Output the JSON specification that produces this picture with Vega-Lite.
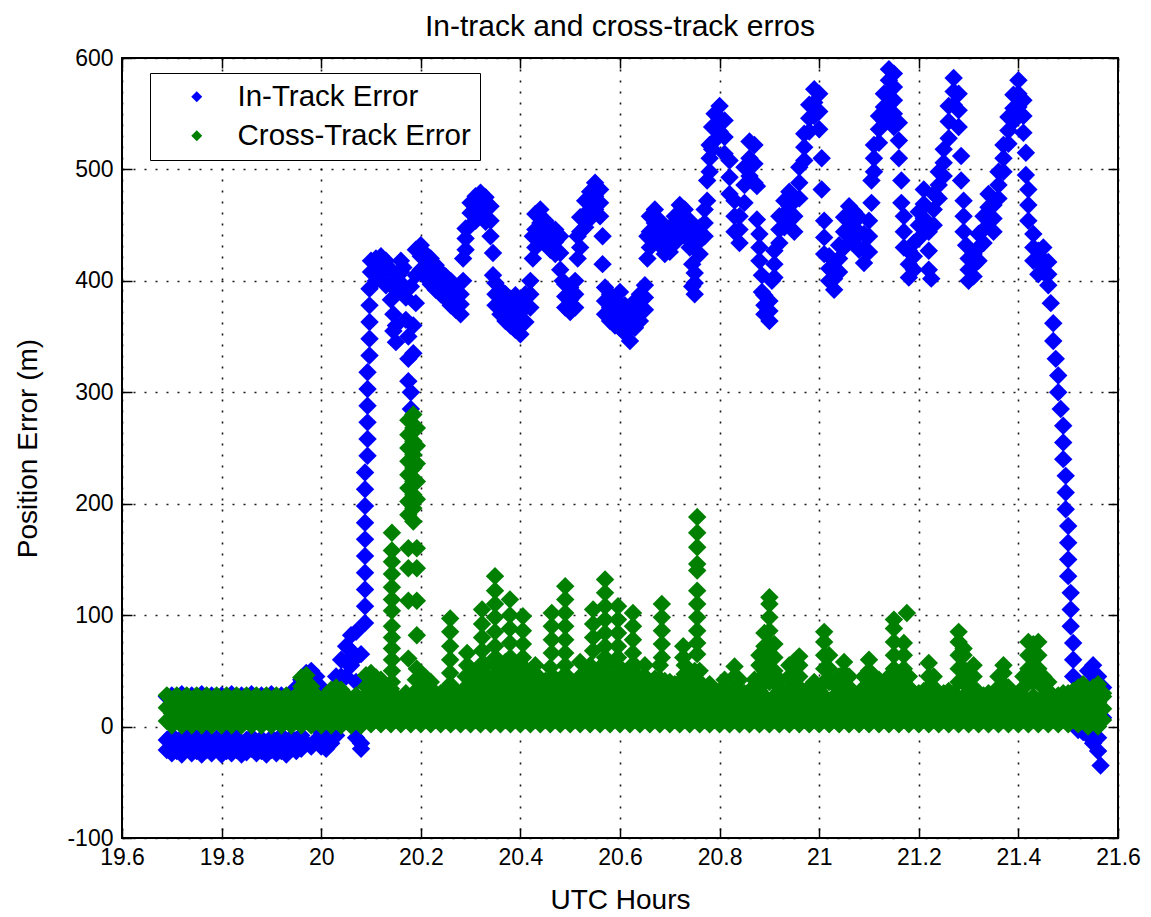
{
"$schema":"https://vega.github.io/schema/vega-lite/v6.json",
"width":996,"height":780,
"autosize":{"type":"none"},
"padding":{"left":122,"top":58,"right":33,"bottom":79},
"background":"white",
"title":{"text":"In-track and cross-track erros","font":"Liberation Sans","fontSize":30,"fontWeight":"normal","color":"black","offset":5,"anchor":"middle"},
"config":{"view":{"stroke":"black","strokeWidth":2}},
"datasets":{
"inTrack":[
{"t":19.69,"v":27},{"t":19.69,"v":-12},{"t":19.69,"v":-21},
{"t":19.70,"v":28},{"t":19.70,"v":-8},{"t":19.70,"v":-24},
{"t":19.71,"v":26},{"t":19.71,"v":-14},{"t":19.71,"v":-22},
{"t":19.72,"v":29},{"t":19.72,"v":-10},{"t":19.72,"v":-25},
{"t":19.73,"v":27},{"t":19.73,"v":-15},{"t":19.73,"v":-20},
{"t":19.74,"v":28},{"t":19.74,"v":-6},{"t":19.74,"v":-24},
{"t":19.75,"v":26},{"t":19.75,"v":-12},{"t":19.75,"v":-22},
{"t":19.76,"v":29},{"t":19.76,"v":-16},{"t":19.76,"v":-25},
{"t":19.77,"v":27},{"t":19.77,"v":-9},{"t":19.77,"v":-21},
{"t":19.78,"v":28},{"t":19.78,"v":-14},{"t":19.78,"v":-24},
{"t":19.79,"v":26},{"t":19.79,"v":-11},{"t":19.79,"v":-20},
{"t":19.80,"v":28},{"t":19.80,"v":-15},{"t":19.80,"v":-25},
{"t":19.81,"v":27},{"t":19.81,"v":-8},{"t":19.81,"v":-22},
{"t":19.82,"v":29},{"t":19.82,"v":-13},{"t":19.82,"v":-24},
{"t":19.83,"v":26},{"t":19.83,"v":-10},{"t":19.83,"v":-21},
{"t":19.84,"v":28},{"t":19.84,"v":-16},{"t":19.84,"v":-25},
{"t":19.85,"v":27},{"t":19.85,"v":-12},{"t":19.85,"v":-23},
{"t":19.86,"v":29},{"t":19.86,"v":-9},{"t":19.86,"v":-20},
{"t":19.87,"v":26},{"t":19.87,"v":-14},{"t":19.87,"v":-24},
{"t":19.88,"v":28},{"t":19.88,"v":-11},{"t":19.88,"v":-22},
{"t":19.89,"v":27},{"t":19.89,"v":-15},{"t":19.89,"v":-25},
{"t":19.90,"v":29},{"t":19.90,"v":-10},{"t":19.90,"v":-21},
{"t":19.91,"v":26},{"t":19.91,"v":-13},{"t":19.91,"v":-24},
{"t":19.92,"v":28},{"t":19.92,"v":-8},{"t":19.92,"v":-22},
{"t":19.93,"v":27},{"t":19.93,"v":-14},{"t":19.93,"v":-25},
{"t":19.94,"v":30},{"t":19.94,"v":-10},{"t":19.94,"v":-20},
{"t":19.95,"v":35},{"t":19.95,"v":-12},{"t":19.95,"v":-22},
{"t":19.96,"v":42},{"t":19.96,"v":-8},{"t":19.96,"v":-20},
{"t":19.97,"v":48},{"t":19.97,"v":20},{"t":19.97,"v":-15},
{"t":19.98,"v":50},{"t":19.98,"v":30},{"t":19.98,"v":-18},
{"t":19.99,"v":45},{"t":19.99,"v":10},{"t":19.99,"v":-12},
{"t":20.00,"v":35},{"t":20.00,"v":-5},{"t":20.00,"v":-18},
{"t":20.01,"v":15},{"t":20.01,"v":-10},{"t":20.01,"v":-20},
{"t":20.02,"v":25},{"t":20.02,"v":0},{"t":20.02,"v":-15},
{"t":20.03,"v":45},{"t":20.03,"v":15},{"t":20.03,"v":-8},
{"t":20.04,"v":60},{"t":20.04,"v":45},{"t":20.04,"v":30},
{"t":20.05,"v":72},{"t":20.05,"v":58},{"t":20.05,"v":45},{"t":20.05,"v":10},
{"t":20.06,"v":82},{"t":20.06,"v":68},{"t":20.06,"v":55},{"t":20.06,"v":20},
{"t":20.07,"v":85},{"t":20.07,"v":62},{"t":20.07,"v":40},{"t":20.07,"v":-10},
{"t":20.08,"v":65},{"t":20.08,"v":20},{"t":20.08,"v":-15},{"t":20.08,"v":-20},
{"t":20.088,"v":93},{"t":20.088,"v":108},{"t":20.088,"v":123},{"t":20.088,"v":138},{"t":20.088,"v":153},{"t":20.088,"v":168},{"t":20.088,"v":183},{"t":20.088,"v":198},{"t":20.088,"v":213},{"t":20.088,"v":228},
{"t":20.093,"v":243},{"t":20.093,"v":258},{"t":20.093,"v":273},{"t":20.093,"v":288},{"t":20.093,"v":303},{"t":20.093,"v":318},
{"t":20.097,"v":333},{"t":20.097,"v":348},{"t":20.097,"v":363},{"t":20.097,"v":378},{"t":20.097,"v":393},
{"t":20.10,"v":408},{"t":20.10,"v":418},
{"t":20.11,"v":420},{"t":20.11,"v":410},{"t":20.11,"v":400},
{"t":20.12,"v":422},{"t":20.12,"v":412},{"t":20.12,"v":402},
{"t":20.13,"v":418},{"t":20.13,"v":408},{"t":20.13,"v":396},
{"t":20.14,"v":410},{"t":20.14,"v":396},{"t":20.14,"v":383},
{"t":20.145,"v":370},{"t":20.145,"v":355},
{"t":20.15,"v":360},{"t":20.15,"v":345},
{"t":20.155,"v":390},{"t":20.155,"v":405},
{"t":20.16,"v":418},{"t":20.16,"v":408},{"t":20.16,"v":398},
{"t":20.165,"v":412},{"t":20.165,"v":390},
{"t":20.17,"v":385},{"t":20.17,"v":365},
{"t":20.175,"v":350},{"t":20.175,"v":330},{"t":20.175,"v":310},
{"t":20.18,"v":395},{"t":20.18,"v":300},{"t":20.18,"v":285},
{"t":20.185,"v":360},{"t":20.185,"v":335},
{"t":20.19,"v":428},{"t":20.19,"v":405},{"t":20.19,"v":380},
{"t":20.20,"v":432},{"t":20.20,"v":422},{"t":20.20,"v":410},
{"t":20.21,"v":424},{"t":20.21,"v":414},{"t":20.21,"v":403},
{"t":20.22,"v":420},{"t":20.22,"v":408},{"t":20.22,"v":397},
{"t":20.23,"v":414},{"t":20.23,"v":403},{"t":20.23,"v":392},
{"t":20.24,"v":408},{"t":20.24,"v":398},{"t":20.24,"v":388},
{"t":20.25,"v":404},{"t":20.25,"v":394},{"t":20.25,"v":384},
{"t":20.26,"v":400},{"t":20.26,"v":389},{"t":20.26,"v":378},
{"t":20.27,"v":394},{"t":20.27,"v":384},{"t":20.27,"v":374},
{"t":20.28,"v":388},{"t":20.28,"v":379},{"t":20.28,"v":370},
{"t":20.285,"v":400},{"t":20.285,"v":420},
{"t":20.29,"v":447},{"t":20.29,"v":438},{"t":20.29,"v":428},
{"t":20.30,"v":470},{"t":20.30,"v":461},{"t":20.30,"v":450},
{"t":20.31,"v":476},{"t":20.31,"v":466},{"t":20.31,"v":454},
{"t":20.32,"v":479},{"t":20.32,"v":469},{"t":20.32,"v":458},
{"t":20.33,"v":475},{"t":20.33,"v":464},{"t":20.33,"v":453},
{"t":20.34,"v":467},{"t":20.34,"v":454},{"t":20.34,"v":440},
{"t":20.345,"v":425},{"t":20.345,"v":405},
{"t":20.35,"v":398},{"t":20.35,"v":388},{"t":20.35,"v":378},
{"t":20.36,"v":392},{"t":20.36,"v":381},{"t":20.36,"v":370},
{"t":20.37,"v":388},{"t":20.37,"v":376},{"t":20.37,"v":364},
{"t":20.38,"v":384},{"t":20.38,"v":372},{"t":20.38,"v":360},
{"t":20.39,"v":387},{"t":20.39,"v":372},{"t":20.39,"v":356},
{"t":20.40,"v":380},{"t":20.40,"v":366},{"t":20.40,"v":352},
{"t":20.41,"v":388},{"t":20.41,"v":376},{"t":20.41,"v":363},
{"t":20.42,"v":400},{"t":20.42,"v":388},{"t":20.42,"v":376},
{"t":20.425,"v":420},{"t":20.425,"v":440},
{"t":20.43,"v":460},{"t":20.43,"v":446},{"t":20.43,"v":430},
{"t":20.44,"v":464},{"t":20.44,"v":452},{"t":20.44,"v":440},
{"t":20.45,"v":454},{"t":20.45,"v":444},{"t":20.45,"v":434},
{"t":20.46,"v":448},{"t":20.46,"v":438},{"t":20.46,"v":428},
{"t":20.47,"v":446},{"t":20.47,"v":435},{"t":20.47,"v":424},
{"t":20.48,"v":440},{"t":20.48,"v":425},{"t":20.48,"v":410},
{"t":20.485,"v":400},
{"t":20.49,"v":397},{"t":20.49,"v":386},{"t":20.49,"v":376},
{"t":20.50,"v":394},{"t":20.50,"v":383},{"t":20.50,"v":372},
{"t":20.51,"v":400},{"t":20.51,"v":388},{"t":20.51,"v":376},
{"t":20.515,"v":420},{"t":20.515,"v":440},
{"t":20.52,"v":457},{"t":20.52,"v":444},{"t":20.52,"v":430},
{"t":20.53,"v":472},{"t":20.53,"v":460},{"t":20.53,"v":448},
{"t":20.54,"v":480},{"t":20.54,"v":468},{"t":20.54,"v":456},
{"t":20.55,"v":488},{"t":20.55,"v":476},{"t":20.55,"v":464},
{"t":20.56,"v":482},{"t":20.56,"v":470},{"t":20.56,"v":458},
{"t":20.565,"v":440},{"t":20.565,"v":415},
{"t":20.57,"v":394},{"t":20.57,"v":382},{"t":20.57,"v":370},
{"t":20.58,"v":388},{"t":20.58,"v":376},{"t":20.58,"v":364},
{"t":20.59,"v":384},{"t":20.59,"v":372},{"t":20.59,"v":360},
{"t":20.60,"v":390},{"t":20.60,"v":374},{"t":20.60,"v":358},
{"t":20.61,"v":378},{"t":20.61,"v":366},{"t":20.61,"v":353},
{"t":20.62,"v":374},{"t":20.62,"v":360},{"t":20.62,"v":346},
{"t":20.63,"v":382},{"t":20.63,"v":370},{"t":20.63,"v":358},
{"t":20.64,"v":388},{"t":20.64,"v":376},{"t":20.64,"v":364},
{"t":20.65,"v":396},{"t":20.65,"v":385},{"t":20.65,"v":374},
{"t":20.655,"v":420},{"t":20.655,"v":440},
{"t":20.66,"v":458},{"t":20.66,"v":444},{"t":20.66,"v":430},
{"t":20.67,"v":464},{"t":20.67,"v":452},{"t":20.67,"v":440},
{"t":20.68,"v":454},{"t":20.68,"v":443},{"t":20.68,"v":432},
{"t":20.69,"v":444},{"t":20.69,"v":434},{"t":20.69,"v":424},
{"t":20.70,"v":448},{"t":20.70,"v":437},{"t":20.70,"v":426},
{"t":20.71,"v":458},{"t":20.71,"v":446},{"t":20.71,"v":434},
{"t":20.72,"v":468},{"t":20.72,"v":456},{"t":20.72,"v":444},
{"t":20.73,"v":464},{"t":20.73,"v":452},{"t":20.73,"v":440},
{"t":20.74,"v":454},{"t":20.74,"v":442},{"t":20.74,"v":430},
{"t":20.745,"v":415},{"t":20.745,"v":395},
{"t":20.75,"v":407},{"t":20.75,"v":398},{"t":20.75,"v":388},
{"t":20.76,"v":448},{"t":20.76,"v":436},{"t":20.76,"v":424},
{"t":20.77,"v":464},{"t":20.77,"v":452},{"t":20.77,"v":440},
{"t":20.775,"v":490},{"t":20.775,"v":472},
{"t":20.78,"v":522},{"t":20.78,"v":510},{"t":20.78,"v":498},
{"t":20.785,"v":538},{"t":20.785,"v":518},
{"t":20.79,"v":550},{"t":20.79,"v":538},{"t":20.79,"v":526},
{"t":20.80,"v":557},{"t":20.80,"v":546},{"t":20.80,"v":534},
{"t":20.81,"v":544},{"t":20.81,"v":529},{"t":20.81,"v":514},
{"t":20.82,"v":508},{"t":20.82,"v":493},{"t":20.82,"v":478},
{"t":20.83,"v":472},{"t":20.83,"v":458},{"t":20.83,"v":444},
{"t":20.84,"v":458},{"t":20.84,"v":446},{"t":20.84,"v":434},
{"t":20.85,"v":502},{"t":20.85,"v":486},{"t":20.85,"v":470},
{"t":20.86,"v":525},{"t":20.86,"v":510},{"t":20.86,"v":494},
{"t":20.87,"v":522},{"t":20.87,"v":505},{"t":20.87,"v":488},
{"t":20.875,"v":485},{"t":20.875,"v":455},
{"t":20.88,"v":442},{"t":20.88,"v":430},{"t":20.88,"v":418},
{"t":20.885,"v":405},{"t":20.885,"v":390},
{"t":20.89,"v":387},{"t":20.89,"v":378},{"t":20.89,"v":370},
{"t":20.90,"v":382},{"t":20.90,"v":373},{"t":20.90,"v":364},
{"t":20.905,"v":400},
{"t":20.91,"v":427},{"t":20.91,"v":415},{"t":20.91,"v":403},
{"t":20.92,"v":458},{"t":20.92,"v":446},{"t":20.92,"v":434},
{"t":20.93,"v":472},{"t":20.93,"v":460},{"t":20.93,"v":448},
{"t":20.94,"v":480},{"t":20.94,"v":467},{"t":20.94,"v":454},
{"t":20.95,"v":472},{"t":20.95,"v":458},{"t":20.95,"v":444},
{"t":20.96,"v":502},{"t":20.96,"v":488},{"t":20.96,"v":474},
{"t":20.97,"v":532},{"t":20.97,"v":520},{"t":20.97,"v":508},
{"t":20.98,"v":558},{"t":20.98,"v":546},{"t":20.98,"v":534},
{"t":20.99,"v":572},{"t":20.99,"v":560},{"t":20.99,"v":548},
{"t":21.00,"v":568},{"t":21.00,"v":552},{"t":21.00,"v":536},
{"t":21.005,"v":510},{"t":21.005,"v":482},
{"t":21.01,"v":454},{"t":21.01,"v":439},{"t":21.01,"v":424},
{"t":21.02,"v":422},{"t":21.02,"v":411},{"t":21.02,"v":400},
{"t":21.03,"v":412},{"t":21.03,"v":402},{"t":21.03,"v":392},
{"t":21.04,"v":432},{"t":21.04,"v":420},{"t":21.04,"v":408},
{"t":21.05,"v":457},{"t":21.05,"v":444},{"t":21.05,"v":430},
{"t":21.06,"v":467},{"t":21.06,"v":454},{"t":21.06,"v":440},
{"t":21.07,"v":462},{"t":21.07,"v":448},{"t":21.07,"v":434},
{"t":21.08,"v":457},{"t":21.08,"v":442},{"t":21.08,"v":428},
{"t":21.09,"v":442},{"t":21.09,"v":429},{"t":21.09,"v":416},
{"t":21.10,"v":454},{"t":21.10,"v":440},{"t":21.10,"v":426},
{"t":21.105,"v":490},{"t":21.105,"v":470},
{"t":21.11,"v":522},{"t":21.11,"v":510},{"t":21.11,"v":498},
{"t":21.12,"v":548},{"t":21.12,"v":536},{"t":21.12,"v":524},
{"t":21.13,"v":568},{"t":21.13,"v":556},{"t":21.13,"v":544},
{"t":21.14,"v":590},{"t":21.14,"v":580},{"t":21.14,"v":570},{"t":21.14,"v":558},{"t":21.14,"v":548},
{"t":21.15,"v":586},{"t":21.15,"v":574},{"t":21.15,"v":562},{"t":21.15,"v":550},{"t":21.15,"v":538},
{"t":21.16,"v":542},{"t":21.16,"v":526},{"t":21.16,"v":510},
{"t":21.165,"v":490},{"t":21.165,"v":470},
{"t":21.17,"v":458},{"t":21.17,"v":444},{"t":21.17,"v":430},
{"t":21.18,"v":427},{"t":21.18,"v":415},{"t":21.18,"v":403},
{"t":21.19,"v":434},{"t":21.19,"v":422},{"t":21.19,"v":410},
{"t":21.20,"v":462},{"t":21.20,"v":450},{"t":21.20,"v":438},
{"t":21.21,"v":482},{"t":21.21,"v":469},{"t":21.21,"v":456},
{"t":21.22,"v":444},{"t":21.22,"v":427},{"t":21.22,"v":410},
{"t":21.225,"v":402},
{"t":21.23,"v":478},{"t":21.23,"v":464},{"t":21.23,"v":450},
{"t":21.24,"v":498},{"t":21.24,"v":486},{"t":21.24,"v":474},
{"t":21.25,"v":518},{"t":21.25,"v":506},{"t":21.25,"v":494},
{"t":21.26,"v":557},{"t":21.26,"v":543},{"t":21.26,"v":528},
{"t":21.27,"v":582},{"t":21.27,"v":570},{"t":21.27,"v":558},
{"t":21.28,"v":568},{"t":21.28,"v":553},{"t":21.28,"v":538},
{"t":21.285,"v":512},{"t":21.285,"v":490},
{"t":21.29,"v":472},{"t":21.29,"v":458},{"t":21.29,"v":444},
{"t":21.295,"v":432},
{"t":21.30,"v":420},{"t":21.30,"v":410},{"t":21.30,"v":400},
{"t":21.31,"v":424},{"t":21.31,"v":414},{"t":21.31,"v":404},
{"t":21.32,"v":442},{"t":21.32,"v":430},{"t":21.32,"v":418},
{"t":21.33,"v":458},{"t":21.33,"v":446},{"t":21.33,"v":434},
{"t":21.34,"v":478},{"t":21.34,"v":466},{"t":21.34,"v":454},
{"t":21.35,"v":468},{"t":21.35,"v":456},{"t":21.35,"v":444},
{"t":21.36,"v":498},{"t":21.36,"v":486},{"t":21.36,"v":474},
{"t":21.37,"v":522},{"t":21.37,"v":510},{"t":21.37,"v":498},
{"t":21.38,"v":547},{"t":21.38,"v":535},{"t":21.38,"v":523},
{"t":21.39,"v":567},{"t":21.39,"v":555},{"t":21.39,"v":543},
{"t":21.40,"v":580},{"t":21.40,"v":568},{"t":21.40,"v":556},
{"t":21.41,"v":562},{"t":21.41,"v":548},{"t":21.41,"v":533},
{"t":21.415,"v":515},{"t":21.415,"v":495},
{"t":21.42,"v":482},{"t":21.42,"v":468},{"t":21.42,"v":454},
{"t":21.43,"v":442},{"t":21.43,"v":430},{"t":21.43,"v":418},
{"t":21.44,"v":427},{"t":21.44,"v":417},{"t":21.44,"v":406},
{"t":21.45,"v":430},{"t":21.45,"v":419},{"t":21.45,"v":408},
{"t":21.46,"v":417},{"t":21.46,"v":406},{"t":21.46,"v":396},
{"t":21.465,"v":380},
{"t":21.47,"v":362},{"t":21.47,"v":346},
{"t":21.475,"v":330},
{"t":21.48,"v":315},{"t":21.48,"v":300},
{"t":21.485,"v":285},
{"t":21.49,"v":270},{"t":21.49,"v":255},{"t":21.49,"v":240},
{"t":21.495,"v":225},{"t":21.495,"v":210},{"t":21.495,"v":195},
{"t":21.50,"v":180},{"t":21.50,"v":165},{"t":21.50,"v":150},{"t":21.50,"v":135},
{"t":21.505,"v":120},{"t":21.505,"v":105},{"t":21.505,"v":90},
{"t":21.51,"v":75},{"t":21.51,"v":60},{"t":21.51,"v":45},
{"t":21.515,"v":30},{"t":21.515,"v":15},
{"t":21.52,"v":5},{"t":21.52,"v":-3},
{"t":21.53,"v":10},{"t":21.53,"v":-5},
{"t":21.54,"v":50},{"t":21.54,"v":35},{"t":21.54,"v":20},{"t":21.54,"v":-8},
{"t":21.55,"v":55},{"t":21.55,"v":40},{"t":21.55,"v":0},{"t":21.55,"v":-15},
{"t":21.56,"v":45},{"t":21.56,"v":22},{"t":21.56,"v":-10},{"t":21.56,"v":-22},
{"t":21.565,"v":28},{"t":21.565,"v":-35},
{"t":21.57,"v":35},{"t":21.57,"v":8}
],
"crossTrack":[
{"t":19.69,"v":5},{"t":19.69,"v":17},{"t":19.69,"v":28},
{"t":19.70,"v":1},{"t":19.70,"v":12},{"t":19.70,"v":24},
{"t":19.71,"v":5},{"t":19.71,"v":17},{"t":19.71,"v":28},
{"t":19.72,"v":1},{"t":19.72,"v":12},{"t":19.72,"v":24},
{"t":19.73,"v":5},{"t":19.73,"v":17},{"t":19.73,"v":28},
{"t":19.74,"v":1},{"t":19.74,"v":12},{"t":19.74,"v":24},
{"t":19.75,"v":5},{"t":19.75,"v":17},{"t":19.75,"v":28},
{"t":19.76,"v":1},{"t":19.76,"v":12},{"t":19.76,"v":24},
{"t":19.77,"v":5},{"t":19.77,"v":17},{"t":19.77,"v":28},
{"t":19.78,"v":1},{"t":19.78,"v":12},{"t":19.78,"v":24},
{"t":19.79,"v":5},{"t":19.79,"v":17},{"t":19.79,"v":28},
{"t":19.80,"v":1},{"t":19.80,"v":12},{"t":19.80,"v":24},
{"t":19.81,"v":5},{"t":19.81,"v":17},{"t":19.81,"v":28},
{"t":19.82,"v":1},{"t":19.82,"v":12},{"t":19.82,"v":24},
{"t":19.83,"v":5},{"t":19.83,"v":17},{"t":19.83,"v":28},
{"t":19.84,"v":1},{"t":19.84,"v":12},{"t":19.84,"v":24},
{"t":19.85,"v":5},{"t":19.85,"v":17},{"t":19.85,"v":28},
{"t":19.86,"v":1},{"t":19.86,"v":12},{"t":19.86,"v":24},
{"t":19.87,"v":5},{"t":19.87,"v":17},{"t":19.87,"v":28},
{"t":19.88,"v":1},{"t":19.88,"v":12},{"t":19.88,"v":24},
{"t":19.89,"v":5},{"t":19.89,"v":17},{"t":19.89,"v":28},
{"t":19.90,"v":1},{"t":19.90,"v":12},{"t":19.90,"v":24},
{"t":19.91,"v":5},{"t":19.91,"v":17},{"t":19.91,"v":28},
{"t":19.92,"v":1},{"t":19.92,"v":12},{"t":19.92,"v":24},
{"t":19.93,"v":5},{"t":19.93,"v":17},{"t":19.93,"v":28},
{"t":19.94,"v":1},{"t":19.94,"v":12},{"t":19.94,"v":24},
{"t":19.95,"v":5},{"t":19.95,"v":17},{"t":19.95,"v":28},
{"t":19.96,"v":1},{"t":19.96,"v":12},{"t":19.96,"v":24},{"t":19.96,"v":36},{"t":19.96,"v":44},
{"t":19.97,"v":5},{"t":19.97,"v":17},{"t":19.97,"v":28},{"t":19.97,"v":40},{"t":19.97,"v":46},
{"t":19.98,"v":1},{"t":19.98,"v":12},{"t":19.98,"v":24},{"t":19.98,"v":36},
{"t":19.99,"v":5},{"t":19.99,"v":17},{"t":19.99,"v":28},
{"t":20.00,"v":1},{"t":20.00,"v":12},{"t":20.00,"v":24},
{"t":20.01,"v":5},{"t":20.01,"v":17},{"t":20.01,"v":28},
{"t":20.02,"v":1},{"t":20.02,"v":12},{"t":20.02,"v":24},{"t":20.02,"v":33},
{"t":20.03,"v":5},{"t":20.03,"v":17},{"t":20.03,"v":28},{"t":20.03,"v":35},
{"t":20.04,"v":1},{"t":20.04,"v":12},{"t":20.04,"v":24},{"t":20.04,"v":33},
{"t":20.05,"v":5},{"t":20.05,"v":17},{"t":20.05,"v":28},
{"t":20.06,"v":1},{"t":20.06,"v":12},{"t":20.06,"v":24},
{"t":20.07,"v":5},{"t":20.07,"v":17},{"t":20.07,"v":28},
{"t":20.08,"v":1},{"t":20.08,"v":12},{"t":20.08,"v":24},
{"t":20.09,"v":6},{"t":20.09,"v":16},{"t":20.09,"v":27},{"t":20.09,"v":36},{"t":20.09,"v":46},
{"t":20.10,"v":2},{"t":20.10,"v":12},{"t":20.10,"v":22},{"t":20.10,"v":38},{"t":20.10,"v":48},
{"t":20.11,"v":6},{"t":20.11,"v":16},{"t":20.11,"v":27},{"t":20.11,"v":36},{"t":20.11,"v":44},
{"t":20.12,"v":2},{"t":20.12,"v":12},{"t":20.12,"v":22},{"t":20.12,"v":34},{"t":20.12,"v":42},
{"t":20.13,"v":6},{"t":20.13,"v":16},{"t":20.13,"v":27},{"t":20.13,"v":36},
{"t":20.14,"v":2},{"t":20.14,"v":12},{"t":20.14,"v":22},{"t":20.14,"v":34},
{"t":20.142,"v":174},{"t":20.142,"v":158},{"t":20.142,"v":148},{"t":20.142,"v":137},{"t":20.142,"v":125},{"t":20.142,"v":114},{"t":20.142,"v":104},{"t":20.142,"v":90},{"t":20.142,"v":80},{"t":20.142,"v":70},{"t":20.142,"v":60},{"t":20.142,"v":50},{"t":20.142,"v":40},
{"t":20.15,"v":6},{"t":20.15,"v":16},{"t":20.15,"v":27},
{"t":20.16,"v":2},{"t":20.16,"v":12},{"t":20.16,"v":22},
{"t":20.17,"v":6},{"t":20.17,"v":16},{"t":20.17,"v":27},{"t":20.17,"v":30},
{"t":20.175,"v":275},{"t":20.175,"v":262},{"t":20.175,"v":250},{"t":20.175,"v":238},{"t":20.175,"v":226},{"t":20.175,"v":214},{"t":20.175,"v":202},{"t":20.175,"v":190},{"t":20.175,"v":160},{"t":20.175,"v":142},{"t":20.175,"v":113},{"t":20.175,"v":61},
{"t":20.18,"v":2},{"t":20.18,"v":12},{"t":20.18,"v":22},
{"t":20.185,"v":280},{"t":20.185,"v":268},{"t":20.185,"v":256},{"t":20.185,"v":244},{"t":20.185,"v":232},{"t":20.185,"v":220},{"t":20.185,"v":208},{"t":20.185,"v":196},{"t":20.185,"v":184},
{"t":20.19,"v":6},{"t":20.19,"v":16},{"t":20.19,"v":27},{"t":20.19,"v":32},{"t":20.19,"v":42},
{"t":20.192,"v":268},{"t":20.192,"v":252},{"t":20.192,"v":236},{"t":20.192,"v":220},{"t":20.192,"v":204},{"t":20.192,"v":160},{"t":20.192,"v":142},{"t":20.192,"v":113},{"t":20.192,"v":82},{"t":20.192,"v":52},
{"t":20.20,"v":2},{"t":20.20,"v":12},{"t":20.20,"v":22},{"t":20.20,"v":32},{"t":20.20,"v":42},
{"t":20.21,"v":6},{"t":20.21,"v":16},{"t":20.21,"v":27},{"t":20.21,"v":34},{"t":20.21,"v":44},
{"t":20.22,"v":2},{"t":20.22,"v":12},{"t":20.22,"v":22},{"t":20.22,"v":32},{"t":20.22,"v":40},
{"t":20.23,"v":6},{"t":20.23,"v":16},{"t":20.23,"v":27},{"t":20.23,"v":30},
{"t":20.24,"v":2},{"t":20.24,"v":12},{"t":20.24,"v":22},{"t":20.24,"v":30},
{"t":20.25,"v":6},{"t":20.25,"v":16},{"t":20.25,"v":27},{"t":20.25,"v":32},
{"t":20.26,"v":2},{"t":20.26,"v":12},{"t":20.26,"v":22},{"t":20.26,"v":30},
{"t":20.259,"v":97},{"t":20.259,"v":85},{"t":20.259,"v":72},{"t":20.259,"v":60},{"t":20.259,"v":48},{"t":20.259,"v":38},
{"t":20.27,"v":6},{"t":20.27,"v":16},{"t":20.27,"v":27},{"t":20.27,"v":32},
{"t":20.28,"v":2},{"t":20.28,"v":12},{"t":20.28,"v":22},{"t":20.28,"v":30},
{"t":20.29,"v":6},{"t":20.29,"v":16},{"t":20.29,"v":27},{"t":20.29,"v":35},{"t":20.29,"v":45},
{"t":20.293,"v":66},{"t":20.293,"v":55},
{"t":20.30,"v":2},{"t":20.30,"v":12},{"t":20.30,"v":22},{"t":20.30,"v":35},{"t":20.30,"v":45},{"t":20.30,"v":52},
{"t":20.31,"v":6},{"t":20.31,"v":16},{"t":20.31,"v":27},{"t":20.31,"v":37},{"t":20.31,"v":45},
{"t":20.32,"v":2},{"t":20.32,"v":12},{"t":20.32,"v":22},{"t":20.32,"v":33},{"t":20.32,"v":45},{"t":20.32,"v":55},
{"t":20.323,"v":105},{"t":20.323,"v":92},{"t":20.323,"v":80},{"t":20.323,"v":68},
{"t":20.33,"v":6},{"t":20.33,"v":16},{"t":20.33,"v":27},{"t":20.33,"v":37},{"t":20.33,"v":47},{"t":20.33,"v":55},
{"t":20.34,"v":2},{"t":20.34,"v":12},{"t":20.34,"v":22},{"t":20.34,"v":33},{"t":20.34,"v":43},
{"t":20.35,"v":6},{"t":20.35,"v":16},{"t":20.35,"v":27},{"t":20.35,"v":37},{"t":20.35,"v":47},{"t":20.35,"v":55},{"t":20.35,"v":62},
{"t":20.349,"v":135},{"t":20.349,"v":122},{"t":20.349,"v":110},{"t":20.349,"v":98},{"t":20.349,"v":85},{"t":20.349,"v":72},
{"t":20.36,"v":2},{"t":20.36,"v":12},{"t":20.36,"v":22},{"t":20.36,"v":33},{"t":20.36,"v":43},{"t":20.36,"v":53},
{"t":20.37,"v":6},{"t":20.37,"v":16},{"t":20.37,"v":27},{"t":20.37,"v":37},{"t":20.37,"v":47},{"t":20.37,"v":58},
{"t":20.38,"v":2},{"t":20.38,"v":12},{"t":20.38,"v":22},{"t":20.38,"v":33},{"t":20.38,"v":43},{"t":20.38,"v":53},{"t":20.38,"v":62},
{"t":20.379,"v":114},{"t":20.379,"v":100},{"t":20.379,"v":88},{"t":20.379,"v":75},
{"t":20.39,"v":6},{"t":20.39,"v":16},{"t":20.39,"v":27},{"t":20.39,"v":37},{"t":20.39,"v":47},{"t":20.39,"v":55},
{"t":20.40,"v":2},{"t":20.40,"v":12},{"t":20.40,"v":22},{"t":20.40,"v":33},{"t":20.40,"v":43},{"t":20.40,"v":53},
{"t":20.405,"v":99},{"t":20.405,"v":86},{"t":20.405,"v":74},{"t":20.405,"v":62},
{"t":20.41,"v":6},{"t":20.41,"v":16},{"t":20.41,"v":27},{"t":20.41,"v":37},{"t":20.41,"v":47},{"t":20.41,"v":52},
{"t":20.42,"v":2},{"t":20.42,"v":12},{"t":20.42,"v":22},{"t":20.42,"v":33},{"t":20.42,"v":43},
{"t":20.43,"v":6},{"t":20.43,"v":16},{"t":20.43,"v":27},{"t":20.43,"v":37},{"t":20.43,"v":47},{"t":20.43,"v":55},
{"t":20.44,"v":2},{"t":20.44,"v":12},{"t":20.44,"v":22},{"t":20.44,"v":33},{"t":20.44,"v":43},
{"t":20.45,"v":6},{"t":20.45,"v":16},{"t":20.45,"v":27},{"t":20.45,"v":35},{"t":20.45,"v":41},
{"t":20.46,"v":2},{"t":20.46,"v":12},{"t":20.46,"v":22},{"t":20.46,"v":33},{"t":20.46,"v":43},{"t":20.46,"v":53},
{"t":20.463,"v":102},{"t":20.463,"v":90},{"t":20.463,"v":78},{"t":20.463,"v":66},
{"t":20.47,"v":6},{"t":20.47,"v":16},{"t":20.47,"v":27},{"t":20.47,"v":35},{"t":20.47,"v":43},
{"t":20.48,"v":2},{"t":20.48,"v":12},{"t":20.48,"v":22},{"t":20.48,"v":31},{"t":20.48,"v":40},
{"t":20.49,"v":6},{"t":20.49,"v":16},{"t":20.49,"v":27},{"t":20.49,"v":37},{"t":20.49,"v":47},{"t":20.49,"v":55},
{"t":20.49,"v":126},{"t":20.49,"v":114},{"t":20.49,"v":102},{"t":20.49,"v":90},{"t":20.49,"v":78},{"t":20.49,"v":66},
{"t":20.50,"v":2},{"t":20.50,"v":12},{"t":20.50,"v":22},{"t":20.50,"v":33},{"t":20.50,"v":41},
{"t":20.51,"v":6},{"t":20.51,"v":16},{"t":20.51,"v":27},{"t":20.51,"v":33},
{"t":20.52,"v":2},{"t":20.52,"v":12},{"t":20.52,"v":22},{"t":20.52,"v":33},{"t":20.52,"v":45},{"t":20.52,"v":58},
{"t":20.53,"v":6},{"t":20.53,"v":16},{"t":20.53,"v":27},{"t":20.53,"v":37},{"t":20.53,"v":47},
{"t":20.54,"v":2},{"t":20.54,"v":12},{"t":20.54,"v":22},{"t":20.54,"v":33},{"t":20.54,"v":43},{"t":20.54,"v":55},
{"t":20.546,"v":105},{"t":20.546,"v":92},{"t":20.546,"v":80},{"t":20.546,"v":68},
{"t":20.55,"v":6},{"t":20.55,"v":16},{"t":20.55,"v":27},{"t":20.55,"v":37},{"t":20.55,"v":47},
{"t":20.56,"v":2},{"t":20.56,"v":12},{"t":20.56,"v":22},{"t":20.56,"v":33},{"t":20.56,"v":43},{"t":20.56,"v":53},
{"t":20.57,"v":6},{"t":20.57,"v":16},{"t":20.57,"v":27},{"t":20.57,"v":37},{"t":20.57,"v":47},{"t":20.57,"v":55},
{"t":20.57,"v":132},{"t":20.57,"v":120},{"t":20.57,"v":108},{"t":20.57,"v":96},{"t":20.57,"v":84},{"t":20.57,"v":72},{"t":20.57,"v":62},
{"t":20.58,"v":2},{"t":20.58,"v":12},{"t":20.58,"v":22},{"t":20.58,"v":33},{"t":20.58,"v":43},
{"t":20.59,"v":6},{"t":20.59,"v":16},{"t":20.59,"v":27},{"t":20.59,"v":37},{"t":20.59,"v":47},{"t":20.59,"v":55},
{"t":20.60,"v":2},{"t":20.60,"v":12},{"t":20.60,"v":22},{"t":20.60,"v":33},{"t":20.60,"v":43},{"t":20.60,"v":53},
{"t":20.596,"v":108},{"t":20.596,"v":96},{"t":20.596,"v":84},{"t":20.596,"v":72},{"t":20.596,"v":62},
{"t":20.61,"v":6},{"t":20.61,"v":16},{"t":20.61,"v":27},{"t":20.61,"v":37},{"t":20.61,"v":45},
{"t":20.62,"v":2},{"t":20.62,"v":12},{"t":20.62,"v":22},{"t":20.62,"v":33},{"t":20.62,"v":43},{"t":20.62,"v":53},
{"t":20.63,"v":6},{"t":20.63,"v":16},{"t":20.63,"v":27},{"t":20.63,"v":37},{"t":20.63,"v":47},{"t":20.63,"v":55},
{"t":20.626,"v":102},{"t":20.626,"v":90},{"t":20.626,"v":78},{"t":20.626,"v":66},
{"t":20.64,"v":2},{"t":20.64,"v":12},{"t":20.64,"v":22},{"t":20.64,"v":33},{"t":20.64,"v":43},
{"t":20.65,"v":6},{"t":20.65,"v":16},{"t":20.65,"v":27},{"t":20.65,"v":35},{"t":20.65,"v":45},{"t":20.65,"v":55},
{"t":20.66,"v":2},{"t":20.66,"v":12},{"t":20.66,"v":22},{"t":20.66,"v":31},{"t":20.66,"v":40},
{"t":20.67,"v":6},{"t":20.67,"v":16},{"t":20.67,"v":27},{"t":20.67,"v":35},{"t":20.67,"v":43},
{"t":20.68,"v":2},{"t":20.68,"v":12},{"t":20.68,"v":22},{"t":20.68,"v":33},{"t":20.68,"v":43},{"t":20.68,"v":55},
{"t":20.684,"v":110},{"t":20.684,"v":98},{"t":20.684,"v":86},{"t":20.684,"v":74},{"t":20.684,"v":62},
{"t":20.69,"v":6},{"t":20.69,"v":16},{"t":20.69,"v":27},{"t":20.69,"v":35},{"t":20.69,"v":41},
{"t":20.70,"v":2},{"t":20.70,"v":12},{"t":20.70,"v":22},{"t":20.70,"v":31},{"t":20.70,"v":40},
{"t":20.71,"v":6},{"t":20.71,"v":16},{"t":20.71,"v":27},{"t":20.71,"v":30},{"t":20.71,"v":38},
{"t":20.72,"v":2},{"t":20.72,"v":12},{"t":20.72,"v":22},{"t":20.72,"v":30},{"t":20.72,"v":40},
{"t":20.73,"v":6},{"t":20.73,"v":16},{"t":20.73,"v":27},{"t":20.73,"v":37},{"t":20.73,"v":47},{"t":20.73,"v":55},
{"t":20.727,"v":72},{"t":20.727,"v":62},
{"t":20.74,"v":2},{"t":20.74,"v":12},{"t":20.74,"v":22},{"t":20.74,"v":30},{"t":20.74,"v":38},
{"t":20.75,"v":6},{"t":20.75,"v":16},{"t":20.75,"v":27},{"t":20.75,"v":30},{"t":20.75,"v":40},{"t":20.75,"v":50},
{"t":20.755,"v":188},{"t":20.755,"v":174},{"t":20.755,"v":161},{"t":20.755,"v":146},{"t":20.755,"v":140},{"t":20.755,"v":122},{"t":20.755,"v":110},{"t":20.755,"v":98},{"t":20.755,"v":86},{"t":20.755,"v":75},{"t":20.755,"v":65},
{"t":20.76,"v":2},{"t":20.76,"v":12},{"t":20.76,"v":22},{"t":20.76,"v":30},{"t":20.76,"v":40},{"t":20.76,"v":50},
{"t":20.77,"v":6},{"t":20.77,"v":16},{"t":20.77,"v":27},{"t":20.77,"v":30},
{"t":20.78,"v":2},{"t":20.78,"v":12},{"t":20.78,"v":22},{"t":20.78,"v":30},{"t":20.78,"v":38},
{"t":20.79,"v":6},{"t":20.79,"v":16},{"t":20.79,"v":27},{"t":20.79,"v":30},
{"t":20.80,"v":2},{"t":20.80,"v":12},{"t":20.80,"v":22},{"t":20.80,"v":32},
{"t":20.81,"v":6},{"t":20.81,"v":16},{"t":20.81,"v":27},{"t":20.81,"v":32},{"t":20.81,"v":42},
{"t":20.82,"v":2},{"t":20.82,"v":12},{"t":20.82,"v":22},{"t":20.82,"v":30},
{"t":20.83,"v":6},{"t":20.83,"v":16},{"t":20.83,"v":27},{"t":20.83,"v":35},{"t":20.83,"v":45},{"t":20.83,"v":54},
{"t":20.84,"v":2},{"t":20.84,"v":12},{"t":20.84,"v":22},{"t":20.84,"v":32},{"t":20.84,"v":42},
{"t":20.85,"v":6},{"t":20.85,"v":16},{"t":20.85,"v":27},{"t":20.85,"v":30},
{"t":20.86,"v":2},{"t":20.86,"v":12},{"t":20.86,"v":22},{"t":20.86,"v":32},
{"t":20.87,"v":6},{"t":20.87,"v":16},{"t":20.87,"v":27},{"t":20.87,"v":32},{"t":20.87,"v":42},
{"t":20.88,"v":2},{"t":20.88,"v":12},{"t":20.88,"v":22},{"t":20.88,"v":32},{"t":20.88,"v":42},{"t":20.88,"v":55},{"t":20.88,"v":64},
{"t":20.89,"v":6},{"t":20.89,"v":16},{"t":20.89,"v":27},{"t":20.89,"v":40},{"t":20.89,"v":50},{"t":20.89,"v":60},{"t":20.89,"v":72},{"t":20.89,"v":84},
{"t":20.90,"v":2},{"t":20.90,"v":12},{"t":20.90,"v":22},{"t":20.90,"v":40},{"t":20.90,"v":50},{"t":20.90,"v":62},{"t":20.90,"v":74},{"t":20.90,"v":86},{"t":20.90,"v":98},{"t":20.90,"v":110},{"t":20.90,"v":116},
{"t":20.91,"v":6},{"t":20.91,"v":16},{"t":20.91,"v":27},{"t":20.91,"v":40},{"t":20.91,"v":50},{"t":20.91,"v":62},{"t":20.91,"v":74},
{"t":20.92,"v":2},{"t":20.92,"v":12},{"t":20.92,"v":22},{"t":20.92,"v":32},{"t":20.92,"v":42},
{"t":20.93,"v":6},{"t":20.93,"v":16},{"t":20.93,"v":27},{"t":20.93,"v":30},
{"t":20.94,"v":2},{"t":20.94,"v":12},{"t":20.94,"v":22},{"t":20.94,"v":35},{"t":20.94,"v":45},{"t":20.94,"v":55},
{"t":20.95,"v":6},{"t":20.95,"v":16},{"t":20.95,"v":27},{"t":20.95,"v":35},{"t":20.95,"v":45},{"t":20.95,"v":58},
{"t":20.96,"v":2},{"t":20.96,"v":12},{"t":20.96,"v":22},{"t":20.96,"v":35},{"t":20.96,"v":45},{"t":20.96,"v":55},{"t":20.96,"v":63},
{"t":20.97,"v":6},{"t":20.97,"v":16},{"t":20.97,"v":27},{"t":20.97,"v":30},
{"t":20.98,"v":2},{"t":20.98,"v":12},{"t":20.98,"v":22},{"t":20.98,"v":35},
{"t":20.99,"v":6},{"t":20.99,"v":16},{"t":20.99,"v":27},{"t":20.99,"v":30},{"t":20.99,"v":40},
{"t":21.00,"v":2},{"t":21.00,"v":12},{"t":21.00,"v":22},{"t":21.00,"v":32},
{"t":21.01,"v":6},{"t":21.01,"v":16},{"t":21.01,"v":27},{"t":21.01,"v":40},{"t":21.01,"v":52},{"t":21.01,"v":64},{"t":21.01,"v":76},{"t":21.01,"v":85},
{"t":21.02,"v":2},{"t":21.02,"v":12},{"t":21.02,"v":22},{"t":21.02,"v":40},{"t":21.02,"v":52},{"t":21.02,"v":64},
{"t":21.03,"v":6},{"t":21.03,"v":16},{"t":21.03,"v":27},{"t":21.03,"v":38},
{"t":21.04,"v":2},{"t":21.04,"v":12},{"t":21.04,"v":22},{"t":21.04,"v":35},{"t":21.04,"v":45},
{"t":21.05,"v":6},{"t":21.05,"v":16},{"t":21.05,"v":27},{"t":21.05,"v":38},{"t":21.05,"v":48},{"t":21.05,"v":58},
{"t":21.06,"v":2},{"t":21.06,"v":12},{"t":21.06,"v":22},{"t":21.06,"v":35},{"t":21.06,"v":45},
{"t":21.07,"v":6},{"t":21.07,"v":16},{"t":21.07,"v":27},{"t":21.07,"v":30},
{"t":21.08,"v":2},{"t":21.08,"v":12},{"t":21.08,"v":22},{"t":21.08,"v":30},
{"t":21.09,"v":6},{"t":21.09,"v":16},{"t":21.09,"v":27},{"t":21.09,"v":35},{"t":21.09,"v":45},
{"t":21.10,"v":2},{"t":21.10,"v":12},{"t":21.10,"v":22},{"t":21.10,"v":38},{"t":21.10,"v":50},{"t":21.10,"v":60},
{"t":21.11,"v":6},{"t":21.11,"v":16},{"t":21.11,"v":27},{"t":21.11,"v":35},{"t":21.11,"v":45},
{"t":21.12,"v":2},{"t":21.12,"v":12},{"t":21.12,"v":22},{"t":21.12,"v":35},{"t":21.12,"v":42},
{"t":21.13,"v":6},{"t":21.13,"v":16},{"t":21.13,"v":27},{"t":21.13,"v":32},
{"t":21.14,"v":2},{"t":21.14,"v":12},{"t":21.14,"v":22},{"t":21.14,"v":35},{"t":21.14,"v":45},
{"t":21.15,"v":6},{"t":21.15,"v":16},{"t":21.15,"v":27},{"t":21.15,"v":40},{"t":21.15,"v":52},{"t":21.15,"v":64},{"t":21.15,"v":76},{"t":21.15,"v":88},{"t":21.15,"v":96},
{"t":21.16,"v":2},{"t":21.16,"v":12},{"t":21.16,"v":22},{"t":21.16,"v":35},{"t":21.16,"v":45},
{"t":21.17,"v":6},{"t":21.17,"v":16},{"t":21.17,"v":27},{"t":21.17,"v":40},{"t":21.17,"v":52},{"t":21.17,"v":64},{"t":21.17,"v":75},
{"t":21.176,"v":102},
{"t":21.18,"v":2},{"t":21.18,"v":12},{"t":21.18,"v":22},{"t":21.18,"v":35},{"t":21.18,"v":45},
{"t":21.19,"v":6},{"t":21.19,"v":16},{"t":21.19,"v":27},{"t":21.19,"v":30},
{"t":21.20,"v":2},{"t":21.20,"v":12},{"t":21.20,"v":22},{"t":21.20,"v":30},
{"t":21.21,"v":6},{"t":21.21,"v":16},{"t":21.21,"v":27},{"t":21.21,"v":32},
{"t":21.22,"v":2},{"t":21.22,"v":12},{"t":21.22,"v":22},{"t":21.22,"v":35},{"t":21.22,"v":45},{"t":21.22,"v":57},
{"t":21.23,"v":6},{"t":21.23,"v":16},{"t":21.23,"v":27},{"t":21.23,"v":35},{"t":21.23,"v":45},
{"t":21.24,"v":2},{"t":21.24,"v":12},{"t":21.24,"v":22},{"t":21.24,"v":30},
{"t":21.25,"v":6},{"t":21.25,"v":16},{"t":21.25,"v":27},{"t":21.25,"v":30},
{"t":21.26,"v":2},{"t":21.26,"v":12},{"t":21.26,"v":22},{"t":21.26,"v":32},
{"t":21.27,"v":6},{"t":21.27,"v":16},{"t":21.27,"v":27},{"t":21.27,"v":30},
{"t":21.28,"v":2},{"t":21.28,"v":12},{"t":21.28,"v":22},{"t":21.28,"v":40},{"t":21.28,"v":52},{"t":21.28,"v":64},{"t":21.28,"v":76},{"t":21.28,"v":85},
{"t":21.29,"v":6},{"t":21.29,"v":16},{"t":21.29,"v":27},{"t":21.29,"v":40},{"t":21.29,"v":52},{"t":21.29,"v":64},{"t":21.29,"v":70},
{"t":21.30,"v":2},{"t":21.30,"v":12},{"t":21.30,"v":22},{"t":21.30,"v":35},{"t":21.30,"v":45},
{"t":21.31,"v":6},{"t":21.31,"v":16},{"t":21.31,"v":27},{"t":21.31,"v":35},{"t":21.31,"v":45},{"t":21.31,"v":55},
{"t":21.32,"v":2},{"t":21.32,"v":12},{"t":21.32,"v":22},{"t":21.32,"v":30},
{"t":21.33,"v":6},{"t":21.33,"v":16},{"t":21.33,"v":27},{"t":21.33,"v":28},
{"t":21.34,"v":2},{"t":21.34,"v":12},{"t":21.34,"v":22},{"t":21.34,"v":30},
{"t":21.35,"v":6},{"t":21.35,"v":16},{"t":21.35,"v":27},{"t":21.35,"v":30},
{"t":21.36,"v":2},{"t":21.36,"v":12},{"t":21.36,"v":22},{"t":21.36,"v":35},{"t":21.36,"v":45},
{"t":21.37,"v":6},{"t":21.37,"v":16},{"t":21.37,"v":27},{"t":21.37,"v":38},{"t":21.37,"v":48},{"t":21.37,"v":55},
{"t":21.38,"v":2},{"t":21.38,"v":12},{"t":21.38,"v":22},{"t":21.38,"v":35},
{"t":21.39,"v":6},{"t":21.39,"v":16},{"t":21.39,"v":27},{"t":21.39,"v":30},
{"t":21.40,"v":2},{"t":21.40,"v":12},{"t":21.40,"v":22},{"t":21.40,"v":30},
{"t":21.41,"v":6},{"t":21.41,"v":16},{"t":21.41,"v":27},{"t":21.41,"v":35},{"t":21.41,"v":45},
{"t":21.42,"v":2},{"t":21.42,"v":12},{"t":21.42,"v":22},{"t":21.42,"v":40},{"t":21.42,"v":52},{"t":21.42,"v":64},{"t":21.42,"v":76},
{"t":21.43,"v":6},{"t":21.43,"v":16},{"t":21.43,"v":27},{"t":21.43,"v":40},{"t":21.43,"v":52},{"t":21.43,"v":64},{"t":21.43,"v":74},
{"t":21.44,"v":2},{"t":21.44,"v":12},{"t":21.44,"v":22},{"t":21.44,"v":40},{"t":21.44,"v":52},{"t":21.44,"v":64},{"t":21.44,"v":76},
{"t":21.45,"v":6},{"t":21.45,"v":16},{"t":21.45,"v":27},{"t":21.45,"v":35},{"t":21.45,"v":45},
{"t":21.46,"v":2},{"t":21.46,"v":12},{"t":21.46,"v":22},{"t":21.46,"v":32},{"t":21.46,"v":40},
{"t":21.47,"v":6},{"t":21.47,"v":16},{"t":21.47,"v":27},
{"t":21.48,"v":2},{"t":21.48,"v":12},{"t":21.48,"v":22},{"t":21.48,"v":28},
{"t":21.49,"v":6},{"t":21.49,"v":16},{"t":21.49,"v":27},{"t":21.49,"v":30},
{"t":21.50,"v":2},{"t":21.50,"v":12},{"t":21.50,"v":22},{"t":21.50,"v":30},
{"t":21.51,"v":6},{"t":21.51,"v":16},{"t":21.51,"v":27},{"t":21.51,"v":32},
{"t":21.52,"v":2},{"t":21.52,"v":12},{"t":21.52,"v":22},{"t":21.52,"v":35},
{"t":21.53,"v":6},{"t":21.53,"v":16},{"t":21.53,"v":27},{"t":21.53,"v":38},
{"t":21.54,"v":0},{"t":21.54,"v":12},{"t":21.54,"v":22},{"t":21.54,"v":30},
{"t":21.55,"v":6},{"t":21.55,"v":16},{"t":21.55,"v":27},{"t":21.55,"v":35},
{"t":21.56,"v":0},{"t":21.56,"v":12},{"t":21.56,"v":22},{"t":21.56,"v":38},
{"t":21.57,"v":6},{"t":21.57,"v":16},{"t":21.57,"v":27},{"t":21.57,"v":30}
]},
"layer":[
{"data":{"name":"inTrack"},
 "mark":{"type":"point","shape":"diamond","filled":true,"size":340,"opacity":1,"strokeWidth":0},
 "encoding":{
  "x":{"field":"t","type":"quantitative","scale":{"domain":[19.6,21.6],"nice":false,"zero":false},
   "axis":{"orient":"bottom","values":[19.6,19.8,20,20.2,20.4,20.6,20.8,21,21.2,21.4,21.6],"labelExpr":"''+datum.value","grid":true,"gridColor":"black","gridDash":[2,9],"gridWidth":1.6,"gridOpacity":0.9,"domain":false,"tickSize":-10,"tickWidth":1.5,"tickColor":"black","labelFont":"Liberation Sans","labelFontSize":23,"labelColor":"black","labelPadding":18,"labelFlush":false,"labelOverlap":false,"title":"UTC Hours","titleFont":"Liberation Sans","titleFontSize":28,"titleFontWeight":"normal","titleColor":"black","titlePadding":17}},
  "y":{"field":"v","type":"quantitative","scale":{"domain":[-100,600],"nice":false,"zero":false},
   "axis":{"orient":"left","values":[-100,0,100,200,300,400,500,600],"labelExpr":"''+datum.value","grid":true,"gridColor":"black","gridDash":[2,9],"gridWidth":1.6,"gridOpacity":0.9,"domain":false,"tickSize":-10,"tickWidth":1.5,"tickColor":"black","labelFont":"Liberation Sans","labelFontSize":23,"labelColor":"black","labelPadding":19,"labelFlush":false,"labelOverlap":false,"title":"Position Error (m)","titleFont":"Liberation Sans","titleFontSize":28,"titleFontWeight":"normal","titleColor":"black","titlePadding":24}},
  "color":{"datum":"In-Track Error","type":"nominal","scale":{"domain":["In-Track Error","Cross-Track Error"],"range":["#0000ff","#008000"]},
   "legend":{"title":null,"orient":"none","legendX":28,"legendY":15,"fillColor":"white","strokeColor":"black","padding":9,"rowPadding":8,"symbolType":"diamond","symbolSize":120,"symbolStrokeWidth":0,"symbolOffset":23,"labelOffset":26,"labelFont":"Liberation Sans","labelFontSize":29.5,"labelColor":"black","labelLimit":600}}
 }},
{"data":{"name":"crossTrack"},
 "mark":{"type":"point","shape":"diamond","filled":true,"size":340,"opacity":1,"strokeWidth":0},
 "encoding":{
  "x":{"field":"t","type":"quantitative","axis":{"orient":"top","values":[19.6,19.8,20,20.2,20.4,20.6,20.8,21,21.2,21.4,21.6],"labels":false,"grid":false,"domain":false,"tickSize":-10,"tickWidth":1.5,"tickColor":"black","title":null}},
  "y":{"field":"v","type":"quantitative","axis":{"orient":"right","values":[-100,0,100,200,300,400,500,600],"labels":false,"grid":false,"domain":false,"tickSize":-10,"tickWidth":1.5,"tickColor":"black","title":null}},
  "color":{"datum":"Cross-Track Error","type":"nominal"}
 }}
],
"resolve":{"axis":{"x":"independent","y":"independent"}}
}
